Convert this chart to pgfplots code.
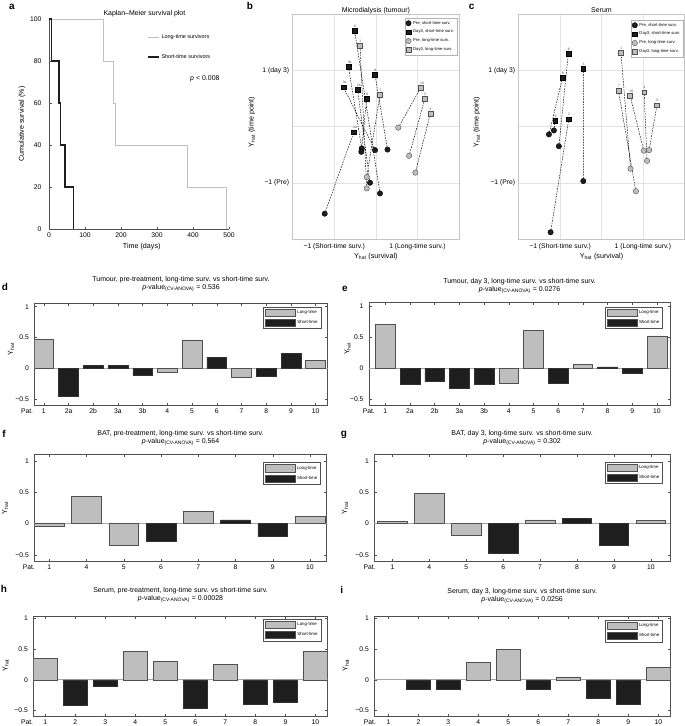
\documentclass[border=0pt]{standalone}
\usepackage{fontspec}
\setmainfont{Liberation Sans}
\usepackage{pgfplots}
\pgfplotsset{compat=1.18}
\definecolor{lg}{HTML}{BEBEBE}
\definecolor{dk}{HTML}{1E1E1E}
\definecolor{edge}{HTML}{505050}
\definecolor{boxc}{HTML}{505050}
\newcommand\fs[1]{\fontsize{#1}{#1}\selectfont}
\newcommand\ft{\fontsize{7}{7.7}\selectfont}
\pgfplotsset{
  /pgf/number format/assume math mode=true,
  every axis title shift=0pt,
  base/.style={scale only axis, anchor=north west,
    axis line style={boxc, line width=0.5bp},
    every tick/.style={boxc, line width=0.4bp},
    major tick length=2.5bp, tick align=inside,
    tick label style={font=\fs{6.8}}, label style={font=\fs{7.2}}},
  barpanel/.style={base, ymin=-0.6, ymax=1.06,
    ytick={-0.5,0,0.5,1}, yticklabels={−0.5,0,0.5,1},
    yticklabel style={xshift=-2bp},
    extra y ticks={0}, extra y tick labels={},
    extra y tick style={grid=major, major grid style={draw=gray!70, line width=1bp}, major tick length=0pt},
    ylabel={Y\textsubscript{hat}},
    ylabel style={anchor=center},
    title style={font=\ft, align=center, inner sep=0pt, at={(axis description cs:0.5,1)}, anchor=south},
    legend style={at={(axis description cs:1,1)}, anchor=north east, font=\fs{4.4}, draw=edge, line width=0.5bp, inner xsep=1.2bp, inner ysep=1.3bp, row sep=1.6bp, cells={anchor=west}},
  },
  long/.style={ybar, bar width=0.8, bar shift=0pt, fill=lg, draw=edge, line width=0.5bp, forget plot},
  short/.style={ybar, bar width=0.8, bar shift=0pt, fill=dk, draw=dk!80!gray, line width=0.5bp, forget plot},
  scatterpanel/.style={base, xmin=-2, xmax=2, ymin=-2, ymax=2,
    grid=major, major grid style={gray!22, line width=0.4bp},
    axis line style={gray!45, line width=0.5bp}, major tick length=0pt,
    xtick={-1,0,1}, ytick={-1,0,1},
    xticklabels={{−1 (Short-time surv.)},{},{1 (Long-time surv.)}},
    yticklabels={{−1 (Pre)},{},{1 (day 3)}},
    xticklabel style={yshift=-1.5bp},
    xlabel={Y\textsubscript{hat} (survival)}, ylabel={Y\textsubscript{hat} (time point)},
    xlabel style={at={(axis description cs:0.5,0)}, anchor=center, yshift=-17.7bp},
    ylabel style={anchor=center},
    title style={font=\fs{7}, at={(axis description cs:0.5,1)}, anchor=base, yshift=1.6bp, inner sep=0pt},
    legend style={at={(axis description cs:1,1)}, anchor=north east, font=\fs{4.2}, draw=gray!60, line width=0.4bp, inner xsep=1bp, inner ysep=0.8bp, row sep=0.4bp, cells={anchor=west}},
    legend image code/.code={\draw[mark repeat=2,mark phase=2,##1] plot coordinates {(0bp,0bp) (2.8bp,0bp) (5.6bp,0bp)};},
    unbounded coords=jump},
  lab/.style={nodes near coords, point meta=explicit symbolic,
    every node near coord/.append style={font=\fs{3.4}, text=gray!60!black, anchor=south west, inner sep=0pt, xshift=-0.8bp, yshift=3bp}},
  dline/.style={black, line width=0.45bp, dash pattern=on 1.6bp off 1.1bp, forget plot},
  bc/.style={only marks, mark=*, mark size=2.7bp, draw=black, fill=dk, mark options={line width=0.4bp}},
  bs/.style={only marks, mark=square*, mark size=2.4bp, draw=black, fill=dk, mark options={line width=0.4bp}},
  gc/.style={only marks, mark=*, mark size=2.7bp, draw=edge, fill=lg, mark options={line width=0.4bp}},
  gs/.style={only marks, mark=square*, mark size=2.4bp, draw=edge, fill=lg, mark options={line width=0.4bp}},
}
\newcommand\barlegend{%
  \addlegendimage{legend image code/.code={\draw[fill=lg,draw=edge,line width=0.5bp] (0bp,-3.6bp) rectangle (30bp,3.6bp);}}
  \addlegendentry{Long-time}
  \addlegendimage{legend image code/.code={\draw[fill=dk,draw=edge,line width=0.5bp] (0bp,-3.6bp) rectangle (30bp,3.6bp);}}
  \addlegendentry{Short-time}}
\begin{document}
\begin{tikzpicture}
\useasboundingbox (0,0) rectangle (685bp,-726bp);
% panel letters
\node[font=\fs{10}\bfseries] at (12bp,-7bp) {a};
\node[font=\fs{10}\bfseries] at (250bp,-6bp) {b};
\node[font=\fs{10}\bfseries] at (471.7bp,-6.7bp) {c};
\node[font=\fs{10}\bfseries] at (5bp,-287.3bp) {d};
\node[font=\fs{10}\bfseries] at (345bp,-289.3bp) {e};
\node[font=\fs{10}\bfseries] at (4bp,-434bp) {f};
\node[font=\fs{10}\bfseries] at (344bp,-435bp) {g};
\node[font=\fs{10}\bfseries] at (4bp,-589bp) {h};
\node[font=\fs{10}\bfseries] at (341.7bp,-590bp) {i};

% ---------------- a
\begin{axis}[base, at={(49bp,-19bp)}, width=180bp, height=210bp,
  xmin=0, xmax=500, ymin=0, ymax=100, axis lines*=left, clip=false,
  xtick={0,100,...,500}, ytick={0,20,...,100}, yticklabel style={xshift=-4bp},
  title={Kaplan–Meier survival plot},
  title style={font=\fs{7}, at={(axis description cs:0.53,1)}, anchor=base, yshift=3.6bp, inner sep=0pt},
  xlabel={Time (days)}, xlabel style={at={(axis description cs:0.515,0)}, anchor=center, yshift=-18bp},
  ylabel={Cumulative survival (\%)}, ylabel style={at={(axis description cs:-0.15,0.5)}, anchor=center},
  legend style={at={(axis description cs:0.544,0.935)}, anchor=north west, draw=none, fill=none, font=\fs{5.5}, row sep=9.8bp, inner sep=0pt, cells={anchor=west}},
  legend image code/.code={\draw[#1] (0bp,0bp) -- (11bp,0bp);}]
\addplot[color=gray!50, line width=1bp] coordinates {(0,100) (151,100) (151,80) (178,80) (178,60) (186,60) (186,40) (385,40) (385,20) (494,20) (494,0)};
\addlegendentry{Long-time survivors}
\addplot[color=dk, line width=1.4bp] coordinates {(0,100) (7,100) (7,80) (28,80) (28,60) (31.5,60) (31.5,40) (44.5,40) (44.5,20) (68.5,20) (68.5,0)};
\addlegendentry{Short-time survivors}
\node[font=\fs{7}] at (axis cs:433,71.4) {\textit{p} < 0.008};
\end{axis}

% ---------------- b
\begin{axis}[scatterpanel, at={(292.7bp,-14bp)}, width=166.3bp, height=225bp,
  title={Microdialysis (tumour)},
  ylabel style={at={(axis description cs:-0.2466,0.52)}},
  legend style={xshift=-2bp, yshift=-4bp}]
\addplot[dline] coordinates {
 (-1.23,-1.55) (-0.53,-0.10) (nan,nan)
 (-0.02,-0.42) (-0.78,0.70) (nan,nan)
 (-0.34,-0.39) (-0.66,1.07) (nan,nan)
 (0.28,-0.41) (-0.02,0.92) (nan,nan)
 (-0.14,-1.00) (-0.44,0.66) (nan,nan)
 (-0.35,-0.45) (-0.22,0.49) (nan,nan)
 (0.10,-1.19) (-0.51,1.70) (nan,nan)
 (-0.22,-1.10) (-0.38,1.43) (nan,nan)
 (-0.22,-0.90) (0.10,0.57) (nan,nan)
 (0.54,-0.02) (1.08,0.69) (nan,nan)
 (0.80,-0.52) (1.18,0.50) (nan,nan)
 (0.95,-0.82) (1.31,0.23)};
\addplot[bc] coordinates {(-1.23,-1.55) (-0.02,-0.42) (-0.34,-0.39) (0.28,-0.41) (-0.14,-1.00) (-0.35,-0.45) (0.10,-1.19)};
\addlegendentry{Pre, short-time surv.}
\addplot[bs, lab] table[meta=l] {
x y l
-0.53 -0.10 2a
-0.78 0.70 3a
-0.66 1.07 3b
-0.02 0.92 8
-0.44 0.66 2b
-0.22 0.49 9
-0.51 1.70 6
};
\addlegendentry{Day3, short-time surv.}
\addplot[gc] coordinates {(-0.22,-1.10) (-0.22,-0.90) (0.54,-0.02) (0.80,-0.52) (0.95,-0.82)};
\addlegendentry{Pre, long-time surv.}
\addplot[gs, lab] table[meta=l] {
x y l
-0.38 1.43 1
0.10 0.57 7
1.08 0.69 10
1.18 0.50 5
1.31 0.23 4
};
\addlegendentry{Day3, long-time surv.}
\end{axis}

% ---------------- c
\begin{axis}[scatterpanel, at={(518.7bp,-14bp)}, width=165.6bp, height=225bp,
  title={Serum},
  ylabel style={at={(axis description cs:-0.2536,0.52)}},
  legend style={xshift=-1bp, yshift=-6bp}]
\addplot[dline] coordinates {
 (-1.03,-0.35) (-0.80,1.30) (nan,nan)
 (-0.44,-0.97) (-0.44,1.03) (nan,nan)
 (-1.27,-0.14) (-0.94,0.87) (nan,nan)
 (-1.15,-0.07) (-1.12,0.10) (nan,nan)
 (-1.23,-1.88) (-0.79,0.13) (nan,nan)
 (0.70,-0.75) (0.47,1.31) (nan,nan)
 (0.83,-1.15) (0.41,0.63) (nan,nan)
 (1.02,-0.43) (0.69,0.55) (nan,nan)
 (1.10,-0.61) (1.03,0.61) (nan,nan)
 (1.15,-0.42) (1.34,0.38)};
\addplot[bc] coordinates {(-1.03,-0.35) (-0.44,-0.97) (-1.27,-0.14) (-1.15,-0.07) (-1.23,-1.88)};
\addlegendentry{Pre, short-time surv.}
\addplot[bs, lab] table[meta=l] {
x y l
-0.80 1.30 6
-0.44 1.03 3
-0.94 0.87 8
-1.12 0.10 9
-0.79 0.13 2
};
\addlegendentry{Day3, short-time surv.}
\addplot[gc] coordinates {(0.70,-0.75) (0.83,-1.15) (1.02,-0.43) (1.10,-0.61) (1.15,-0.42)};
\addlegendentry{Pre, long-time surv.}
\addplot[gs, lab] table[meta=l] {
x y l
0.47 1.31 1
0.41 0.63 7
0.69 0.55 10
1.03 0.61 4
1.34 0.38 5
};
\addlegendentry{Day3, long-time surv.}
\end{axis}

% ---------------- d
\begin{axis}[barpanel, at={(34.3bp,-303bp)}, width=293.4bp, height=102bp,
  xmin=0.615, xmax=12.49,
  xtick={1,...,12}, xticklabels={\llap{Pat.\hspace{8.8bp}}1,2a,2b,3a,3b,4,5,6,7,8,9,10},
  title={Tumour, pre-treatment, long-time surv. vs short-time surv.\\\textit{p}-value\textsubscript{(CV-ANOVA)} = 0.536},
  title style={yshift=11bp},
  ylabel style={at={(axis description cs:-0.0794,0.55)}},
  legend style={xshift=-6.7bp, yshift=-3.7bp}]
\addplot[long] coordinates {(1,0.47) (6,-0.065) (7,0.46) (9,-0.15) (12,0.13)};
\addplot[short] coordinates {(2,-0.46) (3,0.04) (4,0.05) (5,-0.12) (8,0.17) (10,-0.14) (11,0.24)};
\barlegend
\end{axis}

% ---------------- e
\begin{axis}[barpanel, at={(369bp,-302.7bp)}, width=301bp, height=102.3bp,
  xmin=0.34, xmax=12.53,
  xtick={1,...,12}, xticklabels={\llap{Pat.\hspace{8.6bp}}1,2a,2b,3a,3b,4,5,6,7,8,9,10},
  title={Tumour, day 3, long-time surv. vs short-time surv.\\\textit{p}-value\textsubscript{(CV-ANOVA)} = 0.0276},
  title style={yshift=9bp},
  ylabel style={at={(axis description cs:-0.0714,0.55)}},
  legend style={xshift=-7.3bp, yshift=-4bp}]
\addplot[long] coordinates {(1,0.71) (6,-0.25) (7,0.61) (9,0.06) (12,0.52)};
\addplot[short] coordinates {(2,-0.26) (3,-0.22) (4,-0.32) (5,-0.26) (8,-0.25) (10,0.02) (11,-0.09)};
\barlegend
\end{axis}

% ---------------- f
\begin{axis}[barpanel, at={(34.3bp,-454.3bp)}, width=292.4bp, height=107.4bp,
  xmin=0.597, xmax=8.45, ymin=-0.61, ymax=1.11,
  xtick={1,...,8}, xticklabels={\llap{Pat.\hspace{12.6bp}}1,4,5,6,7,8,9,10},
  title={BAT, pre-treatment, long-time surv. vs short-time surv.\\\textit{p}-value\textsubscript{(CV-ANOVA)} = 0.564},
  title style={yshift=8.5bp},
  ylabel style={at={(axis description cs:-0.1002,0.5)}},
  legend style={xshift=-6bp, yshift=-8bp}]
\addplot[long] coordinates {(1,-0.05) (2,0.44) (3,-0.34) (5,0.20) (8,0.12)};
\addplot[short] coordinates {(4,-0.28) (6,0.06) (7,-0.20)};
\barlegend
\end{axis}

% ---------------- g
\begin{axis}[barpanel, at={(374.3bp,-454.3bp)}, width=295.7bp, height=107.4bp,
  xmin=0.51, xmax=8.52, ymin=-0.61, ymax=1.11,
  xtick={1,...,8}, xticklabels={\llap{Pat.\hspace{14.9bp}}1,4,5,6,7,8,9,10},
  title={BAT, day 3, long-time surv. vs short-time surv.\\\textit{p}-value\textsubscript{(CV-ANOVA)} = 0.302},
  title style={yshift=8.5bp},
  ylabel style={at={(axis description cs:-0.099,0.5)}},
  legend style={xshift=-7.3bp, yshift=-7.4bp}]
\addplot[long] coordinates {(1,0.04) (2,0.49) (3,-0.19) (5,0.06) (8,0.05)};
\addplot[short] coordinates {(4,-0.48) (6,0.08) (7,-0.35)};
\barlegend
\end{axis}

% ---------------- h
\begin{axis}[barpanel, at={(33.3bp,-616bp)}, width=294.4bp, height=100.7bp,
  xmin=0.6, xmax=10.41, ymin=-0.6, ymax=1.04,
  xtick={1,...,10}, xticklabels={\llap{Pat.\hspace{10.3bp}}1,2,3,4,5,6,7,8,9,10},
  title={Serum, pre-treatment, long-time surv. vs short-time surv.\\\textit{p}-value\textsubscript{(CV-ANOVA)} = 0.00028},
  title style={yshift=13bp},
  ylabel style={at={(axis description cs:-0.0938,0.51)}},
  legend style={xshift=-6.7bp, yshift=-3bp}]
\addplot[long] coordinates {(1,0.35) (4,0.46) (5,0.30) (7,0.25) (10,0.46)};
\addplot[short] coordinates {(2,-0.42) (3,-0.11) (6,-0.46) (8,-0.40) (9,-0.36)};
\barlegend
\end{axis}

% ---------------- i
\begin{axis}[barpanel, at={(374.3bp,-616bp)}, width=295.7bp, height=100.7bp,
  xmin=0.53, xmax=10.39, ymin=-0.6, ymax=1.04,
  xtick={1,...,10}, xticklabels={\llap{Pat.\hspace{10.6bp}}1,2,3,4,5,6,7,8,9,10},
  title={Serum, day 3, long-time surv. vs short-time surv.\\\textit{p}-value\textsubscript{(CV-ANOVA)} = 0.0256},
  title style={yshift=12.5bp},
  ylabel style={at={(axis description cs:-0.0967,0.51)}},
  legend style={xshift=-7.3bp, yshift=-4bp}]
\addplot[long] coordinates {(4,0.28) (5,0.50) (7,0.05) (10,0.20)};
\addplot[short] coordinates {(2,-0.16) (3,-0.16) (6,-0.16) (8,-0.30) (9,-0.40)};
\barlegend
\end{axis}
\end{tikzpicture}
\end{document}
